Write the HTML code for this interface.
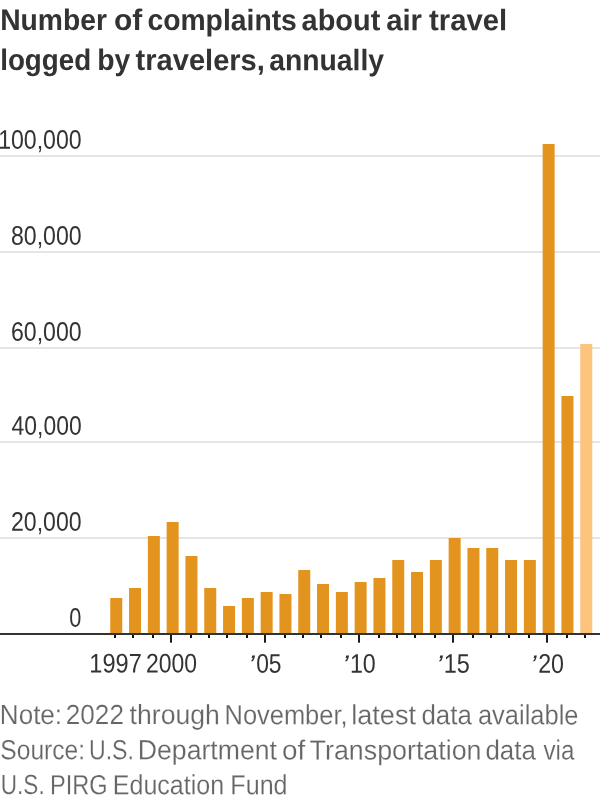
<!DOCTYPE html>
<html lang="en"><head><meta charset="utf-8"><title>Air travel complaints</title>
<style>html,body{margin:0;padding:0;background:#fff}svg{display:block}text{font-family:"Liberation Sans",sans-serif}.t{font-weight:700;font-size:29.8px;fill:#333}.y{font-size:26.8px;fill:#333}.x{font-size:27px;fill:#333}.n{font-size:27.6px;fill:#666;stroke:#fff;stroke-width:.2px;paint-order:fill stroke}.ap{font-style:italic;font-size:25px}</style></head><body>
<svg width="600" height="800" viewBox="0 0 600 800">
<rect width="600" height="800" fill="#fff"/>
<text class="t" transform="translate(300,30.2) skewY(.04) translate(-300,0)"><tspan x="0.18" textLength="106.75" lengthAdjust="spacingAndGlyphs">Number</tspan> <tspan x="114.0" textLength="28.2" lengthAdjust="spacingAndGlyphs">of</tspan> <tspan x="147.4" textLength="149.46" lengthAdjust="spacingAndGlyphs">complaints</tspan> <tspan x="301.62" textLength="78.66" lengthAdjust="spacingAndGlyphs">about</tspan> <tspan x="386.16" textLength="35.88" lengthAdjust="spacingAndGlyphs">air</tspan> <tspan x="429.02" textLength="78.21" lengthAdjust="spacingAndGlyphs">travel</tspan></text>
<text class="t" transform="translate(300,70.2) skewY(.04) translate(-300,0)"><tspan x="0.18" textLength="91.08" lengthAdjust="spacingAndGlyphs">logged</tspan> <tspan x="97.35" textLength="33.02" lengthAdjust="spacingAndGlyphs">by</tspan> <tspan x="135.58" textLength="129.28" lengthAdjust="spacingAndGlyphs">travelers,</tspan> <tspan x="269.18" textLength="114.9" lengthAdjust="spacingAndGlyphs">annually</tspan></text>
<rect x="0" y="155" width="600" height="2" fill="#e5e5e5"/>
<rect x="0" y="251" width="600" height="2" fill="#e5e5e5"/>
<rect x="0" y="347" width="600" height="2" fill="#e5e5e5"/>
<rect x="0" y="441" width="600" height="2" fill="#e5e5e5"/>
<rect x="0" y="537" width="600" height="2" fill="#e5e5e5"/>
<rect x="110.25" y="598" width="12" height="35" fill="#e3941f"/>
<rect x="129.05" y="588" width="12" height="45" fill="#e3941f"/>
<rect x="147.85" y="536" width="12" height="97" fill="#e3941f"/>
<rect x="166.65" y="522" width="12" height="111" fill="#e3941f"/>
<rect x="185.45" y="556" width="12" height="77" fill="#e3941f"/>
<rect x="204.25" y="588" width="12" height="45" fill="#e3941f"/>
<rect x="223.05" y="606" width="12" height="27" fill="#e3941f"/>
<rect x="241.85" y="598" width="12" height="35" fill="#e3941f"/>
<rect x="260.65" y="592" width="12" height="41" fill="#e3941f"/>
<rect x="279.45" y="594" width="12" height="39" fill="#e3941f"/>
<rect x="298.25" y="570" width="12" height="63" fill="#e3941f"/>
<rect x="317.05" y="584" width="12" height="49" fill="#e3941f"/>
<rect x="335.85" y="592" width="12" height="41" fill="#e3941f"/>
<rect x="354.65" y="582" width="12" height="51" fill="#e3941f"/>
<rect x="373.45" y="578" width="12" height="55" fill="#e3941f"/>
<rect x="392.25" y="560" width="12" height="73" fill="#e3941f"/>
<rect x="411.05" y="572" width="12" height="61" fill="#e3941f"/>
<rect x="429.85" y="560" width="12" height="73" fill="#e3941f"/>
<rect x="448.65" y="538" width="12" height="95" fill="#e3941f"/>
<rect x="467.45" y="548" width="12" height="85" fill="#e3941f"/>
<rect x="486.25" y="548" width="12" height="85" fill="#e3941f"/>
<rect x="505.05" y="560" width="12" height="73" fill="#e3941f"/>
<rect x="523.85" y="560" width="12" height="73" fill="#e3941f"/>
<rect x="542.65" y="144" width="12" height="489" fill="#e3941f"/>
<rect x="561.45" y="396" width="12" height="237" fill="#e3941f"/>
<rect x="580.25" y="344" width="12" height="289" fill="#fcc47c"/>
<rect x="0" y="633" width="600" height="2" fill="#333"/>
<rect x="114.00" y="635" width="2" height="3" fill="#111"/>
<rect x="132.00" y="635" width="2" height="3" fill="#111"/>
<rect x="152.00" y="635" width="2" height="3" fill="#111"/>
<rect x="170.00" y="635" width="2" height="7.7" fill="#1c1c1c"/>
<rect x="190.00" y="635" width="2" height="3" fill="#111"/>
<rect x="208.00" y="635" width="2" height="3" fill="#111"/>
<rect x="226.00" y="635" width="2" height="3" fill="#111"/>
<rect x="246.00" y="635" width="2" height="3" fill="#111"/>
<rect x="264.00" y="635" width="2" height="7.7" fill="#1c1c1c"/>
<rect x="284.00" y="635" width="2" height="3" fill="#111"/>
<rect x="302.00" y="635" width="2" height="3" fill="#111"/>
<rect x="320.00" y="635" width="2" height="3" fill="#111"/>
<rect x="340.00" y="635" width="2" height="3" fill="#111"/>
<rect x="358.00" y="635" width="2" height="7.7" fill="#1c1c1c"/>
<rect x="378.00" y="635" width="2" height="3" fill="#111"/>
<rect x="396.00" y="635" width="2" height="3" fill="#111"/>
<rect x="414.00" y="635" width="2" height="3" fill="#111"/>
<rect x="434.00" y="635" width="2" height="3" fill="#111"/>
<rect x="452.00" y="635" width="2" height="7.7" fill="#1c1c1c"/>
<rect x="472.00" y="635" width="2" height="3" fill="#111"/>
<rect x="490.00" y="635" width="2" height="3" fill="#111"/>
<rect x="508.00" y="635" width="2" height="3" fill="#111"/>
<rect x="528.00" y="635" width="2" height="3" fill="#111"/>
<rect x="546.00" y="635" width="2" height="7.7" fill="#1c1c1c"/>
<rect x="566.00" y="635" width="2" height="3" fill="#111"/>
<rect x="584.00" y="635" width="2" height="3" fill="#111"/>
<text class="y" x="-1.85" transform="translate(300,148.9) skewY(.04) translate(-300,0)" textLength="83.52" lengthAdjust="spacingAndGlyphs">100,000</text>
<text class="y" transform="translate(300,245) skewY(.04) translate(-300,0)"><tspan x="11.0" textLength="70.67" lengthAdjust="spacingAndGlyphs">80,000</tspan></text>
<text class="y" transform="translate(300,341) skewY(.04) translate(-300,0)"><tspan x="11.0" textLength="70.67" lengthAdjust="spacingAndGlyphs">60,000</tspan></text>
<text class="y" transform="translate(300,435) skewY(.04) translate(-300,0)"><tspan x="11.62" textLength="70.02" lengthAdjust="spacingAndGlyphs">40,000</tspan></text>
<text class="y" transform="translate(300,531) skewY(.04) translate(-300,0)"><tspan x="11.0" textLength="70.67" lengthAdjust="spacingAndGlyphs">20,000</tspan></text>
<text class="y" transform="translate(300,627) skewY(.04) translate(-300,0)"><tspan x="69.3" textLength="12.11" lengthAdjust="spacingAndGlyphs">0</tspan></text>
<text class="x" transform="translate(300,672.7) skewY(.04) translate(-300,0)"><tspan x="89.28" textLength="52.52" lengthAdjust="spacingAndGlyphs">1997</tspan> <tspan x="146.0" textLength="51.09" lengthAdjust="spacingAndGlyphs">2000</tspan> <tspan class="ap" x="247.97" textLength="6.7" lengthAdjust="spacingAndGlyphs">’</tspan><tspan x="256.18" textLength="25.4" lengthAdjust="spacingAndGlyphs">05</tspan> <tspan class="ap" x="341.97" textLength="6.7" lengthAdjust="spacingAndGlyphs">’</tspan><tspan x="349.94" textLength="25.87" lengthAdjust="spacingAndGlyphs">10</tspan> <tspan class="ap" x="435.97" textLength="6.7" lengthAdjust="spacingAndGlyphs">’</tspan><tspan x="443.72" textLength="26.14" lengthAdjust="spacingAndGlyphs">15</tspan> <tspan class="ap" x="530.18" textLength="6.24" lengthAdjust="spacingAndGlyphs">’</tspan><tspan x="538.19" textLength="25.87" lengthAdjust="spacingAndGlyphs">20</tspan></text>
<text class="n" transform="translate(300,724.2) skewY(.04) translate(-300,0)"><tspan x="-0.17" textLength="62.24" lengthAdjust="spacingAndGlyphs">Note:</tspan> <tspan x="65.8" textLength="58.15" lengthAdjust="spacingAndGlyphs">2022</tspan> <tspan x="129.6" textLength="90.21" lengthAdjust="spacingAndGlyphs">through</tspan> <tspan x="224.51" textLength="123.08" lengthAdjust="spacingAndGlyphs">November,</tspan> <tspan x="351.28" textLength="64.73" lengthAdjust="spacingAndGlyphs">latest</tspan> <tspan x="421.43" textLength="50.38" lengthAdjust="spacingAndGlyphs">data</tspan> <tspan x="477.95" textLength="100.58" lengthAdjust="spacingAndGlyphs">available</tspan></text>
<text class="n" transform="translate(300,759.4) skewY(.04) translate(-300,0)"><tspan x="0.35" textLength="84.7" lengthAdjust="spacingAndGlyphs">Source:</tspan> <tspan x="88.96" textLength="44.97" lengthAdjust="spacingAndGlyphs">U.S.</tspan> <tspan x="137.82" textLength="139.12" lengthAdjust="spacingAndGlyphs">Department</tspan> <tspan x="281.96" textLength="23.21" lengthAdjust="spacingAndGlyphs">of</tspan> <tspan x="309.59" textLength="171.96" lengthAdjust="spacingAndGlyphs">Transportation</tspan> <tspan x="485.46" textLength="50.47" lengthAdjust="spacingAndGlyphs">data</tspan> <tspan x="543.44" textLength="30.91" lengthAdjust="spacingAndGlyphs">via</tspan></text>
<text class="n" transform="translate(300,794.3) skewY(.04) translate(-300,0)"><tspan x="0.83" textLength="43.84" lengthAdjust="spacingAndGlyphs">U.S.</tspan> <tspan x="50.03" textLength="57.58" lengthAdjust="spacingAndGlyphs">PIRG</tspan> <tspan x="112.86" textLength="111.26" lengthAdjust="spacingAndGlyphs">Education</tspan> <tspan x="230.34" textLength="57.27" lengthAdjust="spacingAndGlyphs">Fund</tspan></text>
</svg></body></html>
